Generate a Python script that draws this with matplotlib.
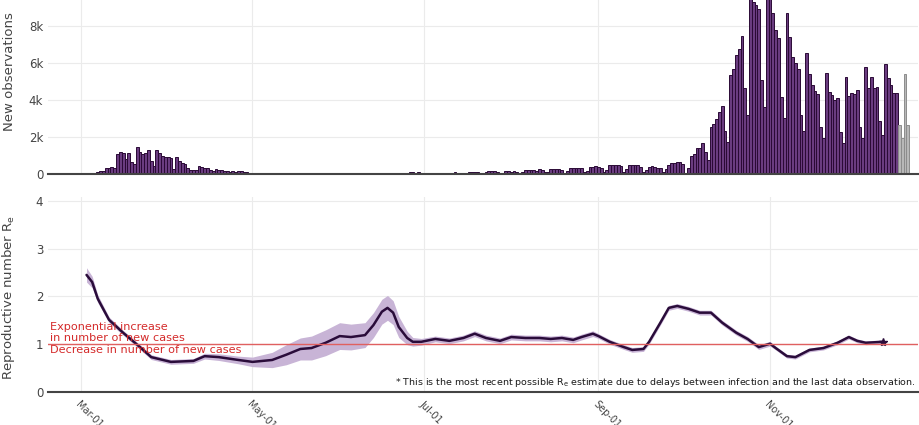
import matplotlib
matplotlib.use("Agg")
import matplotlib.pyplot as plt
import matplotlib.dates as mdates
import numpy as np
import pandas as pd

# daily new observations (bars)
spring_start = "2020-03-01"
spring_cases = [0, 0, 60, 70, 70, 80, 90, 140, 160, 300, 330, 360, 340,
                1060, 1170, 1150, 810, 1120, 670, 520, 1440, 1200, 1060, 1120, 1280, 700, 450,
                1300, 1150, 970, 900, 900, 880, 270, 920, 720, 610, 540, 300, 230, 230, 220,
                430, 360, 340, 300, 210, 140, 270, 210, 200, 160, 170, 90, 140, 110, 180, 140,
                120, 100, 80, 70, 40, 60, 60, 50, 30, 0, 60, 40, 0, 40, 0, 0, 50, 0, 30, 0,
                0, 20, 0, 0, 30, 0, 0, 0, 20, 0, 0, 0, 0]

summer_start = "2020-06-21"
summer_cases = [30, 0, 40, 30, 0, 100, 90, 60, 100, 50, 30, 0, 50, 60, 60, 70, 50, 40,
                70, 80, 80, 90, 70, 50, 40, 80, 90, 90, 100, 90, 40, 60, 130, 170, 150, 160,
                120, 50, 80, 140, 150, 130, 160, 130, 60, 100, 210, 220, 240, 220, 180,
                250, 240, 120, 90, 260, 280, 270, 280, 240, 70, 150, 330, 340, 340, 350, 300,
                100, 180, 380, 400, 410, 400, 300, 130, 200, 460, 470, 480, 460, 420, 130,
                250, 480, 490, 490, 470, 400, 130, 200, 400, 410, 390, 350, 300, 120, 250,
                500, 580, 620, 670, 630, 560]

autumn_start = "2020-10-03"
autumn_cases = [300, 990, 1060, 1390,
                1420, 1690, 1200, 760, 2560, 2680, 2970, 3370, 3670, 2340, 1750, 5360, 5650,
                6430, 6730, 7470, 4640, 3190, 10000, 9300, 9130, 8910, 5080, 3640, 10200,
                9800, 8680, 7810, 7330, 4180, 3010, 8680, 7380, 6340, 5980, 5650, 3190, 2320,
                6550, 5400, 4810, 4500, 4300, 2560, 1930, 5440, 4430, 4270, 4000, 4090, 2290,
                1660, 5260, 4230, 4390, 4300, 4540, 2520, 1930, 5800, 4660, 5220, 4630, 4680,
                2860, 2110, 5920, 5170, 4810, 4390, 4360]

# last days, still incomplete (grey)
provisional_cases = [2650, 1930, 5400, 2650]

# reproductive number estimate (days since 1 March), with its interval half-width
re_days = [2, 4, 6, 10, 15, 21, 25, 32, 40, 44, 49, 56, 61, 68, 73, 78, 82, 87, 92, 96,
           101, 104, 107, 109, 111, 113, 116, 118, 121, 126, 131, 136, 140, 144, 149, 153,
           158, 163, 167, 171, 175, 178, 182, 184, 188, 193, 196, 200, 202, 206, 209, 212,
           216, 220, 224, 228, 233, 237, 241, 245, 247, 251, 254, 259, 264, 269, 273, 276,
           279, 285]
re_mean = [2.45, 2.30, 1.95, 1.51, 1.24, 0.94, 0.73, 0.63, 0.65, 0.75, 0.73, 0.67, 0.63,
           0.67, 0.78, 0.90, 0.92, 1.03, 1.17, 1.15, 1.19, 1.40, 1.68, 1.76, 1.66, 1.36,
           1.13, 1.05, 1.05, 1.11, 1.07, 1.13, 1.22, 1.13, 1.07, 1.15, 1.13, 1.13, 1.11,
           1.13, 1.09, 1.15, 1.22, 1.17, 1.05, 0.94, 0.88, 0.90, 1.05, 1.45, 1.76, 1.80,
           1.74, 1.66, 1.66, 1.45, 1.24, 1.11, 0.94, 1.01, 0.92, 0.75, 0.73, 0.88, 0.92,
           1.03, 1.15, 1.07, 1.03, 1.05]
re_halfwidth = [0.15, 0.12, 0.08, 0.06, 0.05, 0.05, 0.05, 0.05, 0.05, 0.06, 0.07, 0.08,
                0.10, 0.16, 0.21, 0.23, 0.25, 0.27, 0.28, 0.27, 0.26, 0.26, 0.26, 0.26,
                0.25, 0.22, 0.14, 0.09, 0.07, 0.06, 0.06, 0.06, 0.06, 0.06, 0.06, 0.06,
                0.06, 0.06, 0.06, 0.06, 0.06, 0.06, 0.06, 0.05, 0.05, 0.05, 0.05, 0.05,
                0.05, 0.05, 0.05, 0.05, 0.05, 0.05, 0.05, 0.05, 0.05, 0.05, 0.05, 0.05,
                0.04, 0.04, 0.04, 0.04, 0.04, 0.04, 0.04, 0.04, 0.04, 0.04]

month_ticks = ["2020-03-01", "2020-05-01", "2020-07-01", "2020-09-01", "2020-11-01"]
cases_ticks = [0, 2000, 4000, 6000, 8000]
cases_labels = ["0", "2k", "4k", "6k", "8k"]

t0 = pd.Timestamp("2020-03-01")


def days_from(start, n):
    return pd.date_range(start, periods=n, freq="D")


bar_face = "#6a3c80"
bar_edge = "#2a0a35"
grid_c = "#ebebeb"
text_c = "#444444"

fig = plt.figure(figsize=(9.2, 4.25), dpi=100)
ax1 = fig.add_axes([48 / 920, 1 - 174 / 425, 870 / 920, 174 / 425])
ax2 = fig.add_axes([48 / 920, 1 - 392 / 425, 870 / 920, 195 / 425])

for start, vals in [(spring_start, spring_cases), (summer_start, summer_cases),
                    (autumn_start, autumn_cases)]:
    ax1.bar(days_from(start, len(vals)), vals, width=1.0, color=bar_face,
            edgecolor=bar_edge, linewidth=0.7)
prov_start = pd.Timestamp(autumn_start) + pd.Timedelta(days=len(autumn_cases))
ax1.bar(days_from(prov_start, len(provisional_cases)), provisional_cases, width=1.0,
        color="#b8b8b8", edgecolor="#8c8c8c", linewidth=0.7)

re_dates = t0 + pd.to_timedelta(re_days, unit="D")
mean = np.array(re_mean)
hw = np.array(re_halfwidth)
ax2.fill_between(re_dates, mean - hw, mean + hw, color="#c8b4d6", linewidth=0)
ax2.plot(re_dates, mean, color="#2a0c3a", lw=1.8, solid_capstyle="round")
ax2.plot(re_dates[-1], mean[-1], marker="*", ms=6, color="#2a0c3a")
ax2.axhline(1, color="#e06060", lw=1)

xmin = t0 - pd.Timedelta(days=11.7)
xmax = t0 + pd.Timedelta(days=297.6)
ticks = pd.to_datetime(month_ticks)
for ax in (ax1, ax2):
    ax.set_xlim(xmin, xmax)
    ax.set_xticks(ticks)
    ax.grid(True, color=grid_c, lw=0.8)
    ax.set_axisbelow(True)
    for s in ("top", "right", "left"):
        ax.spines[s].set_visible(False)
    ax.spines["bottom"].set_color(text_c)
    ax.spines["bottom"].set_linewidth(1.5)
    ax.tick_params(length=0, colors=text_c, labelsize=8.5)

ax1.set_ylim(0, 9405)
ax1.set_yticks(cases_ticks)
ax1.set_yticklabels(cases_labels)
ax1.set_xticklabels([])
ax1.set_ylabel("New observations", fontsize=9.5, color=text_c)
ax1.yaxis.set_label_coords(-0.037, 0.589)

ax2.set_ylim(0, 4.08)
ax2.set_yticks([0, 1, 2, 3, 4])
ax2.xaxis.set_major_formatter(mdates.DateFormatter("%b-%d"))
ax2.tick_params(axis="x", labelsize=7, pad=5)
for lbl in ax2.get_xticklabels():
    lbl.set_rotation(-45)
    lbl.set_ha("left")
    lbl.set_va("top")
    lbl.set_rotation_mode("anchor")
ax2.set_ylabel(r"Reproductive number R$_\mathregular{e}$", fontsize=9.5, color=text_c)
ax2.yaxis.set_label_coords(-0.036, 0.487)

red = "#d42a2a"
ax2.text(0.002, 1.02, "Exponential increase\nin number of new cases", color=red,
         fontsize=8.1, ha="left", va="bottom", linespacing=1.2,
         transform=ax2.get_yaxis_transform())
ax2.text(0.002, 0.98, "Decrease in number of new cases", color=red, fontsize=8.1,
         ha="left", va="top", transform=ax2.get_yaxis_transform())
ax2.text(0.9975, 0.051,
         r"* This is the most recent possible R$_\mathregular{e}$ estimate due to delays "
         "between infection and the last data observation.",
         color="#1a1a1a", fontsize=6.8, ha="right", va="center", transform=ax2.transAxes)

fig.savefig("out.png", dpi=100)
